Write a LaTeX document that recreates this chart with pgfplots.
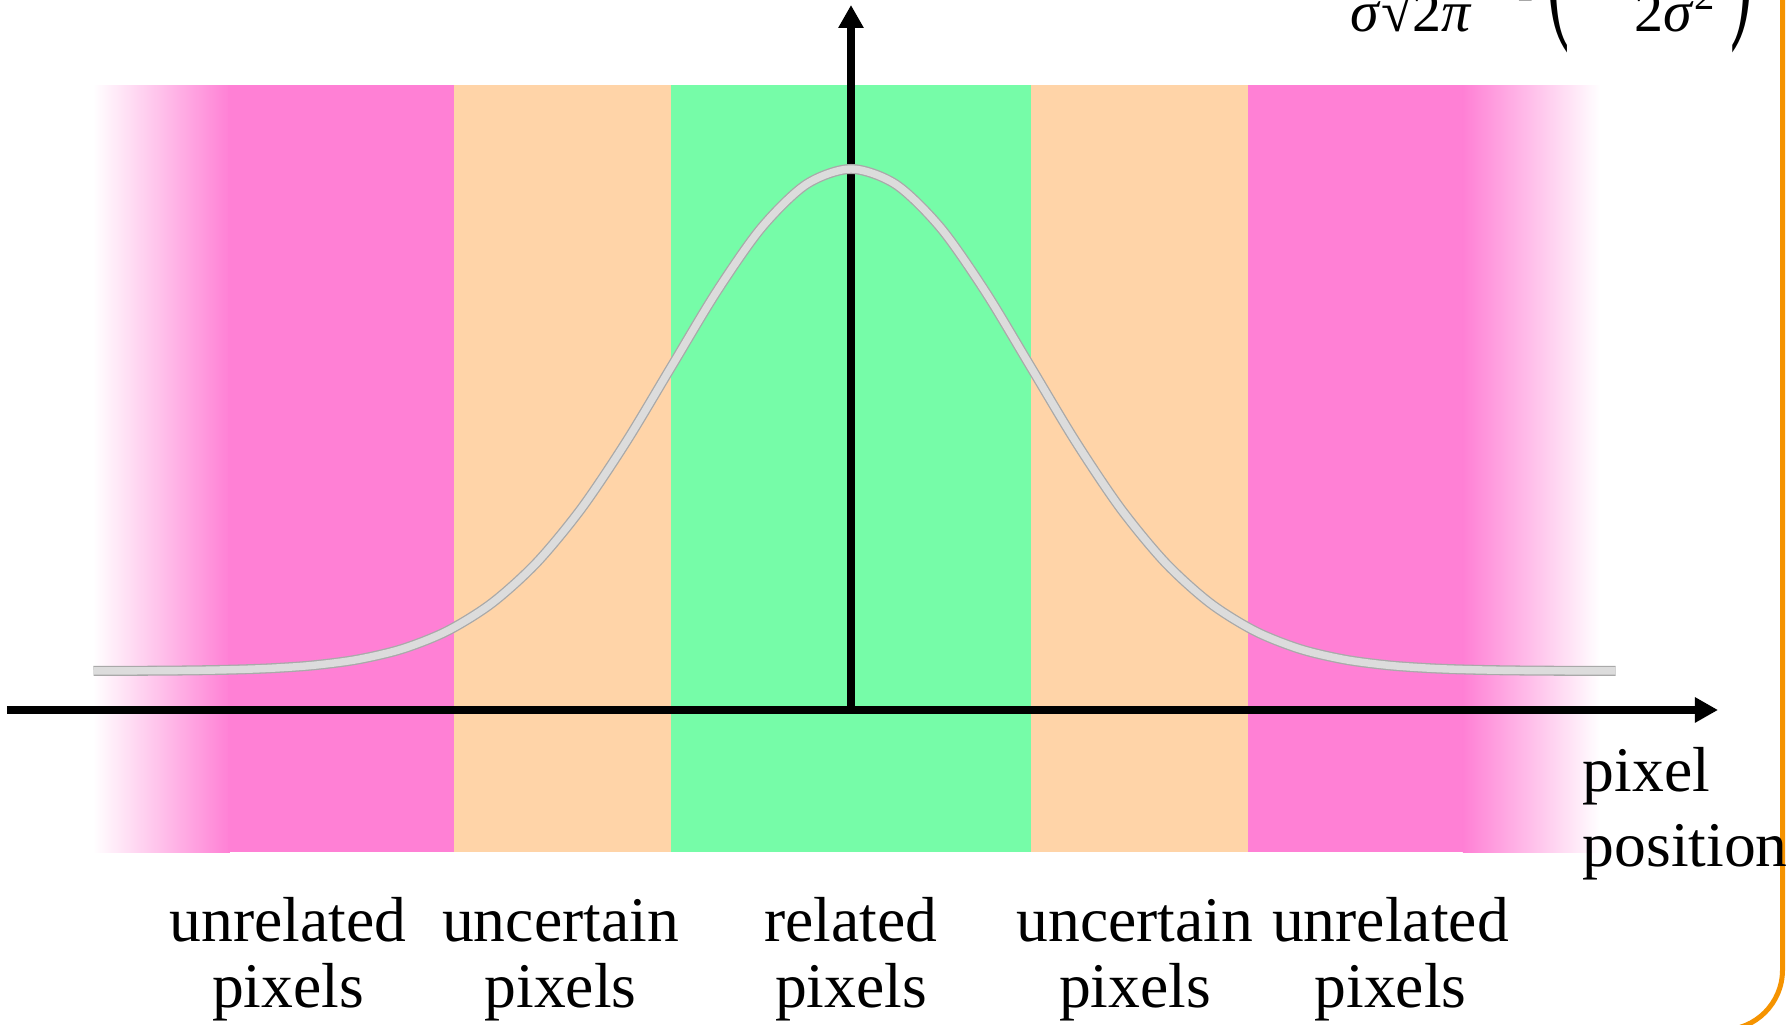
\documentclass[border=0pt]{standalone}
\usepackage{fontspec}
\setmainfont{Liberation Serif}
\usepackage{graphicx}
\usepackage{pgfplots}
\usepackage{pgfplotstable}
\pgfplotsset{compat=1.18}
\usetikzlibrary{arrows.meta}

\definecolor{pinkband}{HTML}{FF80D5}
\definecolor{peach}{HTML}{FFD4A8}
\definecolor{greenband}{HTML}{76FCA8}
\definecolor{curvegray}{HTML}{DCDCDC}
\definecolor{curveedge}{HTML}{A9A9A9}
\definecolor{frameorange}{HTML}{F59300}

% Gaussian profile, x in units of sigma
\pgfplotstableread{
x      y
-4.22  0.00014
-4.00  0.00034
-3.75  0.00088
-3.50  0.00219
-3.25  0.00508
-3.00  0.01111
-2.75  0.02279
-2.50  0.04394
-2.25  0.07956
-2.00  0.13534
-1.75  0.21627
-1.50  0.32465
-1.25  0.45783
-1.00  0.60653
-0.75  0.75484
-0.50  0.88250
-0.25  0.96923
 0.00  1.00000
 0.25  0.96923
 0.50  0.88250
 0.75  0.75484
 1.00  0.60653
 1.25  0.45783
 1.50  0.32465
 1.75  0.21627
 2.00  0.13534
 2.25  0.07956
 2.50  0.04394
 2.75  0.02279
 3.00  0.01111
 3.25  0.00508
 3.50  0.00219
 3.75  0.00088
 4.00  0.00034
 4.26  0.00012
}\gauss

\begin{document}
\begin{tikzpicture}
\path[use as bounding box] (0,0) rectangle (179.2mm,102.5mm);
\clip (0,0) rectangle (179.2mm,102.5mm);

\begin{axis}[
    at={(0,0)}, anchor=south west,
    width=179.2mm, height=102.5mm, scale only axis,
    xmin=-4.7409, xmax=5.2423,
    ymin=-0.70518, ymax=1.33665,
    hide axis, clip=false,
]
% regions
\addplot[draw=none, left color=white, right color=pinkband]
    coordinates {(-4.223,-0.3606) (-3.46,-0.3606) (-3.46,1.167) (-4.223,1.167)} -- cycle;
\addplot[draw=none, fill=pinkband]
    coordinates {(-3.47,-0.3606) (-2.206,-0.3606) (-2.206,1.167) (-3.47,1.167)} -- cycle;
\addplot[draw=none, fill=peach]
    coordinates {(-2.21,-0.3606) (-0.997,-0.3606) (-0.997,1.167) (-2.21,1.167)} -- cycle;
\addplot[draw=none, fill=greenband]
    coordinates {(-1.0,-0.3606) (1.003,-0.3606) (1.003,1.167) (-1.0,1.167)} -- cycle;
\addplot[draw=none, fill=peach]
    coordinates {(1.0,-0.3606) (2.217,-0.3606) (2.217,1.167) (1.0,1.167)} -- cycle;
\addplot[draw=none, fill=pinkband]
    coordinates {(2.213,-0.3606) (3.42,-0.3606) (3.42,1.167) (2.213,1.167)} -- cycle;
\addplot[draw=none, left color=pinkband, right color=white]
    coordinates {(3.409,-0.3606) (4.173,-0.3606) (4.173,1.167) (3.409,1.167)} -- cycle;

% axes
\addplot[black, line width=0.8mm, -{Triangle[length=2.3mm,width=2.4mm]}]
    coordinates {(-4.702,-0.0777) (4.830,-0.0777)};
\addplot[black, line width=0.8mm, -{Triangle[length=2.3mm,width=2.4mm]}]
    coordinates {(0,-0.0777) (0,1.3267)};

% gaussian
\addplot[curveedge, line width=1.0mm, smooth] table {\gauss};
\addplot[curvegray, line width=0.74mm, smooth] table {\gauss};
\end{axis}

% frame
\draw[frameorange, line width=0.5mm, rounded corners=6mm]
    (-10mm,-0.5mm) rectangle (178.25mm,115mm);

% region labels
\begin{scope}[every node/.style={inner sep=0pt, anchor=base,
    font=\fontsize{18.1}{20}\selectfont}]
\node at (28.8mm,8.3mm) {unrelated};
\node at (28.8mm,1.7mm) {pixels};
\node at (56.05mm,8.3mm) {uncertain};
\node at (56.05mm,1.7mm) {pixels};
\node at (85.1mm,8.3mm) {related};
\node at (85.1mm,1.7mm) {pixels};
\node at (113.5mm,8.3mm) {uncertain};
\node at (113.5mm,1.7mm) {pixels};
\node at (139.05mm,8.3mm) {unrelated};
\node at (139.05mm,1.7mm) {pixels};
\node[anchor=base west] at (158.2mm,23.3mm) {pixel};
\node[anchor=base west] at (158.2mm,15.8mm) {position};
\end{scope}

% formula, cut by the top edge
\begin{scope}[every node/.style={inner sep=0pt,
    font=\fontsize{16.5}{18}\selectfont}]
\node[anchor=base east] at (133.5mm,104.1mm) {\textit{f}(\textit{x}) =};
\node[anchor=base] at (141.15mm,109.6mm) {1};
\node[anchor=base] at (141.15mm,99.3mm) {\textit{σ}√2\textit{π}};
\node[anchor=base west] at (146.3mm,103.6mm) {exp};
\node[anchor=base east] at (157.0mm,101.1mm) {\scalebox{1.2}[3.2]{(}};
\node[anchor=base] at (168.0mm,109.6mm) {−\textit{x}\textsuperscript{2}};
\node[anchor=base west] at (163.4mm,99.3mm) {2\textit{σ}\textsuperscript{2}};
\node[anchor=base west] at (173.0mm,101.1mm) {\scalebox{1.2}[3.2]{)}};
\end{scope}
\end{tikzpicture}
\end{document}
